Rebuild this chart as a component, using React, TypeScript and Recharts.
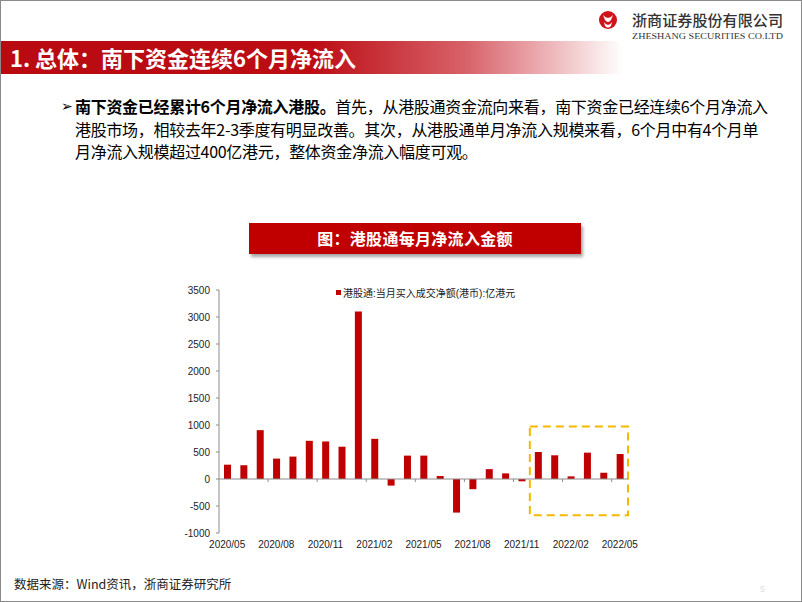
import React from 'react';
import {
  BarChart,
  Bar,
  XAxis,
  YAxis,
  Legend,
  ReferenceLine,
  ReferenceArea,
} from 'recharts';

// 港股通每月净流入 (亿港元)
const months = [
  '2020/05', '2020/06', '2020/07', '2020/08', '2020/09', '2020/10', '2020/11',
  '2020/12', '2021/01', '2021/02', '2021/03', '2021/04', '2021/05', '2021/06',
  '2021/07', '2021/08', '2021/09', '2021/10', '2021/11', '2021/12', '2022/01',
  '2022/02', '2022/03', '2022/04', '2022/05',
];
const netInflow = [
  265, 255, 905, 378, 415, 707, 695,
  598, 3100, 744, -122, 433, 433, 55,
  -622, -189, 183, 104, -43, 500, 439,
  49, 488, 116, 463,
];
const yTicks = [-1000, -500, 0, 500, 1000, 1500, 2000, 2500, 3000, 3500];
// months where the small tick marks sit on the zero line
const zeroTickMonths = ['2020/08', '2020/11', '2021/02', '2021/05', '2021/08', '2021/11', '2022/02', '2022/05'];
// highlighted box: last six months
const boxFrom = '2021/12';
const boxTo = '2022/05';
const boxLow = -670;
const boxHigh = 970;

const seriesName = '港股通:当月买入成交净额(港币):亿港元';
const RED = '#C00000';
const CJK = '"Noto Sans CJK SC", "Noto Sans", sans-serif';
const AXIS_FONT = '"Liberation Sans", Arial, "Noto Sans CJK SC", sans-serif';

const data = months.map((m, i) => ({ month: m, value: netInflow[i] }));

const LegendContent = () => (
  <div style={{ display: 'flex', alignItems: 'center', fontFamily: AXIS_FONT, fontSize: 10, color: '#222', whiteSpace: 'nowrap' }}>
    <span style={{ display: 'inline-block', width: 5, height: 5, background: RED, marginRight: 2 }} />
    <span>{seriesName}</span>
  </div>
);

function Logo() {
  return (
    <svg width={200} height={38} style={{ position: 'absolute', left: 596, top: 6 }}>
      <circle cx={12} cy={14} r={9} fill="#D0121B" />
      <path d="M7 9 Q12 15 17 9 L15 14 Q12 18 9 14 Z" fill="#fff" />
      <path d="M8 16 Q12 22 16 16 L15 20 Q12 23 9 20 Z" fill="#fff" />
      <text x={36} y={20} fontFamily={CJK} fontSize={15} fontWeight={500} fill="#333" textLength={151} lengthAdjust="spacingAndGlyphs">
        浙商证券股份有限公司
      </text>
      <text x={36} y={33} fontFamily='"Liberation Serif", serif' fontSize={9} fill="#333" textLength={151} lengthAdjust="spacingAndGlyphs">
        ZHESHANG SECURITIES CO.LTD
      </text>
    </svg>
  );
}

export default function App() {
  return (
    <div style={{ position: 'absolute', left: 0, top: 0, width: 802, height: 602, background: '#fff', overflow: 'hidden', boxShadow: 'inset 0 0 0 1px #8a8a8a' }}>
      <Logo />

      {/* section title bar */}
      <div
        style={{
          position: 'absolute', left: 1, top: 41, width: 622, height: 33,
          background: 'linear-gradient(to right, #B90A12 0%, #BC0C14 50%, #D8636A 75%, #FFFFFF 100%)',
        }}
      />
      <div style={{ position: 'absolute', left: 10, top: 41, height: 33, lineHeight: '33px', fontFamily: CJK, fontSize: 22, fontWeight: 700, color: '#fff', whiteSpace: 'nowrap' }}>
        1. 总体：南下资金连续6个月净流入
      </div>

      {/* bullet text */}
      <div style={{ position: 'absolute', left: 61, top: 95, fontSize: 14, lineHeight: '22px', color: '#000', fontFamily: '"DejaVu Sans", sans-serif' }}>➢</div>
      <div style={{ position: 'absolute', left: 75, top: 95, fontFamily: CJK, fontSize: 16, lineHeight: '22.5px', color: '#000', whiteSpace: 'nowrap', letterSpacing: -0.3 }}>
        <div><b>南下资金已经累计6个月净流入港股。</b>首先，从港股通资金流向来看，南下资金已经连续6个月净流入</div>
        <div>港股市场，相较去年2-3季度有明显改善。其次，从港股通单月净流入规模来看，6个月中有4个月单</div>
        <div>月净流入规模超过400亿港元，整体资金净流入幅度可观。</div>
      </div>

      {/* chart title banner */}
      <div
        style={{
          position: 'absolute', left: 249, top: 223, width: 332, height: 31,
          background: RED, boxShadow: '2px 3px 3px rgba(0,0,0,0.35)',
          color: '#fff', fontFamily: CJK, fontSize: 16, fontWeight: 700,
          textAlign: 'center', lineHeight: '31px', letterSpacing: 0.3,
        }}
      >
        图：港股通每月净流入金额
      </div>

      <div style={{ position: 'absolute', left: 160, top: 275 }}>
        <BarChart width={480} height={290} data={data} margin={{ top: 15, right: 12, left: 0, bottom: 2 }}>
          <XAxis
            dataKey="month"
            interval={2}
            tickLine={false}
            axisLine={false}
            height={30}
            tick={{ fontSize: 10, fill: '#222', fontFamily: AXIS_FONT }}
          />
          <YAxis
            width={59}
            domain={[-1000, 3500]}
            ticks={yTicks}
            interval={0}
            tickSize={3}
            tickMargin={6}
            axisLine={{ stroke: '#8c8c8c' }}
            tickLine={{ stroke: '#8c8c8c' }}
            tick={{ fontSize: 10, fill: '#222', fontFamily: AXIS_FONT }}
          />
          <Legend
            layout="vertical"
            align="center"
            verticalAlign="middle"
            content={<LegendContent />}
            wrapperStyle={{ top: 10, left: 176, width: 'auto', height: 'auto' }}
          />
          <ReferenceLine y={0} stroke="#8c8c8c" />
          {zeroTickMonths.map((m) => (
            <ReferenceLine
              key={m}
              position="start"
              segment={[{ x: m, y: 0 }, { x: m, y: -55 }]}
              stroke="#8c8c8c"
            />
          ))}
          <Bar dataKey="value" name={seriesName} fill={RED} barSize={7} isAnimationActive={false} />
          <ReferenceArea
            x1={boxFrom}
            x2={boxTo}
            y1={boxLow}
            y2={boxHigh}
            fill="none"
            fillOpacity={0}
            stroke="#F5B800"
            strokeWidth={2}
            strokeDasharray="8 5"
          />
        </BarChart>
      </div>

      {/* source */}
      <div style={{ position: 'absolute', left: 14, top: 574, fontFamily: CJK, fontSize: 12.5, color: '#222', whiteSpace: 'nowrap' }}>
        数据来源：Wind资讯，浙商证券研究所
      </div>
      <div style={{ position: 'absolute', left: 760, top: 584, fontFamily: '"Liberation Sans", sans-serif', fontSize: 9, color: '#ddd' }}>5</div>
    </div>
  );
}
